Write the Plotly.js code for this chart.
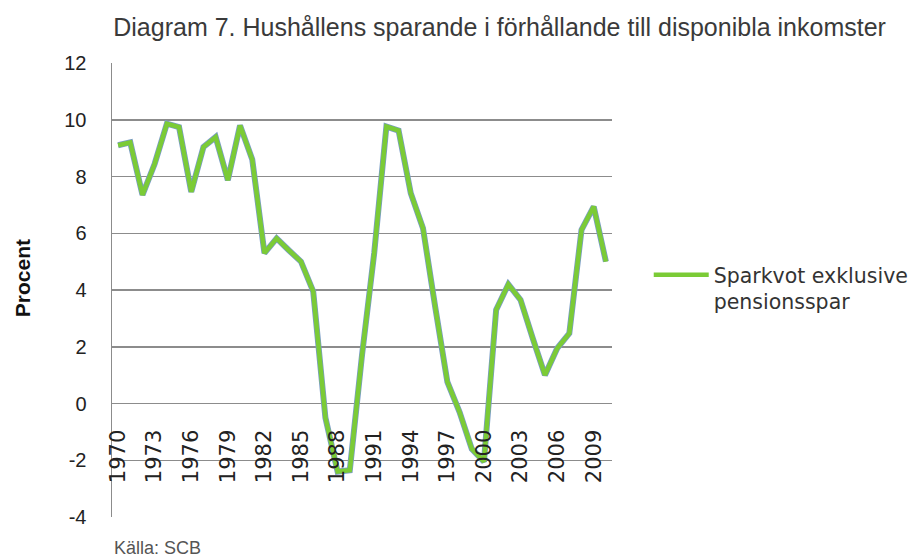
<!DOCTYPE html>
<html>
<head>
<meta charset="utf-8">
<script src="https://cdn.plot.ly/plotly-3.0.1.min.js"></script>
<style>html,body{margin:0;padding:0;background:#fff;}#chart{width:915px;height:559px;}</style>
</head>
<body>
<div id="chart"></div>
<script>
const years = [1970,1971,1972,1973,1974,1975,1976,1977,1978,1979,
               1980,1981,1982,1983,1984,1985,1986,1987,1988,1989,
               1990,1991,1992,1993,1994,1995,1996,1997,1998,1999,
               2000,2001,2002,2003,2004,2005,2006,2007,2008,2009,2010];
const sparkvot = [9.1,9.2,7.35,8.45,9.86,9.74,7.46,9.04,9.39,7.87,
                  9.8,8.6,5.3,5.82,5.4,5.0,3.95,-0.5,-2.4,-2.35,
                  1.7,5.3,9.76,9.62,7.41,6.18,3.41,0.76,-0.3,-1.6,
                  -2.05,3.3,4.2,3.65,2.3,1.0,1.94,2.47,6.12,6.94,5.0];
const xTickYears = [1970,1973,1976,1979,1982,1985,1988,1991,1994,1997,2000,2003,2006,2009];
const yTicks = [-4,-2,0,2,4,6,8,10,12];
const yTickText = ['-4','-2','0','2','4','6','8','10','12'];
const seriesName = 'Sparkvot exklusive<br>pensionsspar';
const titleText = 'Diagram 7. Hushållens sparande i förhållande till disponibla inkomster';
const yTitle = 'Procent';
const sourceText = 'Källa: SCB';

const traces = [
  {x: years, y: sparkvot, type: 'scatter', mode: 'lines', showlegend: false, hoverinfo: 'skip',
   line: {color: '#7A9CC6', width: 6}},
  {x: years, y: sparkvot, type: 'scatter', mode: 'lines', name: seriesName,
   line: {color: '#7BCB36', width: 4.5}}
];

const layout = {
  width: 915, height: 559,
  margin: {l: 112, r: 303, t: 63, b: 42},
  paper_bgcolor: '#ffffff', plot_bgcolor: '#ffffff',
  title: {text: titleText, x: 0.546, xanchor: 'center', y: 0.952, yanchor: 'middle',
          font: {family: 'Liberation Sans, Arial, sans-serif', size: 25, color: '#3a3a3a'}},
  xaxis: {
    range: [1969.5, 2010.5], tickmode: 'array', tickvals: xTickYears, ticktext: xTickYears.map(String),
    tickangle: -90, anchor: 'free', position: 0.25, showgrid: false, zeroline: false, showline: false,
    ticks: '', ticklabelstandoff: 21,
    tickfont: {family: 'DejaVu Sans, Verdana, sans-serif', size: 21, color: '#222'}
  },
  yaxis: {
    range: [-4, 12], tickmode: 'array', tickvals: yTicks, ticktext: yTickText, showgrid: true, gridcolor: '#8c8c8c', gridwidth: 1.5,
    zeroline: false, showline: true, linecolor: '#8c8c8c', linewidth: 1.5, ticks: '', ticklabelstandoff: 20,
    tickfont: {family: 'Liberation Sans, Arial, sans-serif', size: 20, color: '#222'}
  },
  legend: {xref: 'container', yref: 'container', x: 0.709, xanchor: 'left', y: 0.484, yanchor: 'middle',
           itemwidth: 55, valign: 'top',
           font: {family: 'DejaVu Sans, Verdana, sans-serif', size: 20.5, color: '#333'},
           bgcolor: 'rgba(0,0,0,0)'},
  annotations: [
    {text: '<b>' + yTitle + '</b>', xref: 'paper', yref: 'paper', x: -0.18, xanchor: 'center', y: 0.526, yanchor: 'middle',
     textangle: -90, showarrow: false, font: {family: 'Liberation Sans, Arial, sans-serif', size: 21, color: '#111'}},
    {text: sourceText, xref: 'paper', yref: 'paper', x: 0, xanchor: 'left', y: -0.068, yanchor: 'middle',
     showarrow: false, font: {family: 'Liberation Sans, Arial, sans-serif', size: 18, color: '#555'}}
  ]
};

Plotly.newPlot('chart', traces, layout, {displayModeBar: false, staticPlot: true});
</script>
</body>
</html>
